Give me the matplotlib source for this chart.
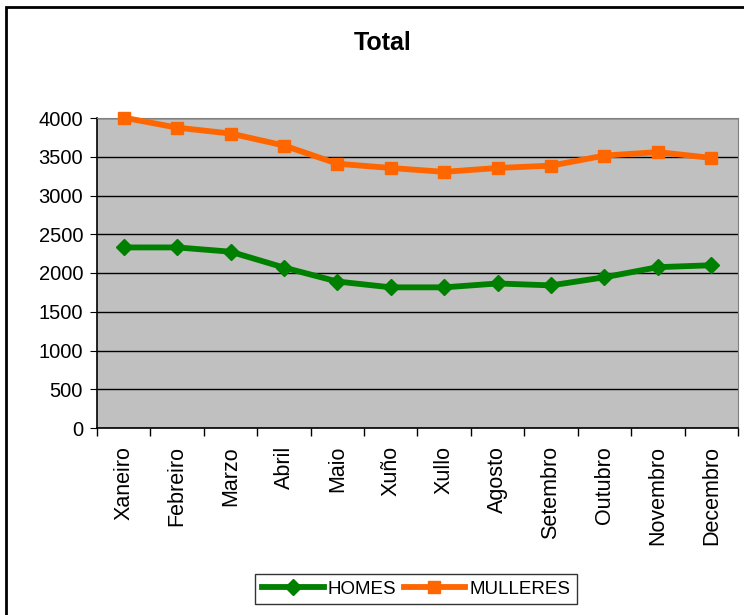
import matplotlib
matplotlib.use("Agg")
import matplotlib.pyplot as plt
from matplotlib.patches import Rectangle

plt.rcParams["font.family"] = ["Liberation Sans", "DejaVu Sans"]

months = ["Xaneiro", "Febreiro", "Marzo", "Abril", "Maio", "Xuño",
          "Xullo", "Agosto", "Setembro", "Outubro", "Novembro", "Decembro"]
homes = [2330, 2330, 2275, 2070, 1890, 1815, 1815, 1865, 1840, 1945, 2075, 2100]
mulleres = [4005, 3875, 3800, 3645, 3410, 3355, 3305, 3355, 3385, 3515, 3560, 3485]
yticks = [0, 500, 1000, 1500, 2000, 2500, 3000, 3500, 4000]

fig = plt.figure(figsize=(7.44, 6.15), dpi=100)
fig.patches.append(Rectangle((6 / 744, -0.01), 1.0, 1 - 7 / 615 + 0.01,
                             transform=fig.transFigure, fill=False,
                             edgecolor="black", linewidth=2, zorder=0))

ax = fig.add_axes([97 / 744, 1 - 428 / 615, (738 - 97) / 744, (428 - 118) / 615])
ax.set_facecolor("#C0C0C0")

x = range(len(months))
ax.plot(x, homes, color="#008000", linewidth=4.2, marker="D", markersize=8,
        label="HOMES", zorder=3, clip_on=False)
ax.plot(x, mulleres, color="#FF6600", linewidth=4.2, marker="s", markersize=9,
        label="MULLERES", zorder=3, clip_on=False)

ax.set_xlim(-0.5, len(months) - 0.5)
ax.set_ylim(0, 4000)
ax.set_yticks(yticks)
ax.yaxis.grid(True, color="black", linewidth=1)
ax.set_axisbelow(True)

# category labels centred, tick marks between categories
ax.set_xticks(list(x))
ax.set_xticklabels(months, rotation=90, fontsize=15.5)
ax.set_xticks([i + 0.5 for i in range(-1, len(months))], minor=True)
ax.tick_params(axis="x", which="major", length=0, pad=13)
ax.tick_params(axis="x", which="minor", length=6, width=1, direction="out")
ax.tick_params(axis="y", labelsize=14.5, length=5, direction="out", pad=5)

for side in ["top", "right"]:
    ax.spines[side].set_color("#808080")
for side in ["left", "bottom"]:
    ax.spines[side].set_color("black")
    ax.spines[side].set_linewidth(1.2)

fig.text(383 / 744, 1 - 43 / 615, "Total", ha="center", va="center",
         fontsize=18, fontweight="bold")

leg = fig.legend(loc="center", bbox_to_anchor=(416 / 744, 1 - 589 / 615),
                 ncol=2, fontsize=13.5, frameon=True, fancybox=False,
                 edgecolor="black", handlelength=3.3, handletextpad=0.2,
                 columnspacing=0.4, borderpad=0.35)
leg.get_frame().set_linewidth(1)

fig.savefig("out.png", dpi=100)
